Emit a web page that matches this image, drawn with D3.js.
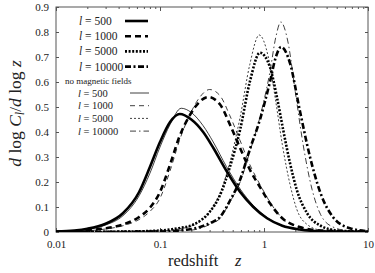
<!DOCTYPE html>
<html>
<head>
<meta charset="utf-8">
<script src="https://cdn.jsdelivr.net/npm/d3@7"></script>
<style>
  body { margin: 0; background: #fff; }
  svg { display: block; }
  text { font-family: "Liberation Serif", "DejaVu Serif", serif; fill: #222; }
</style>
</head>
<body>
<div id="chart"></div>
<script>
// ---- data: [redshift z, d log C_l / d log z]
const magL500 = [[0.01,0.002],[0.015,0.006],[0.02,0.013],[0.03,0.033],[0.044,0.075],[0.063,0.16],[0.08,0.26],[0.1,0.36],[0.125,0.44],[0.155,0.472],[0.2,0.45],[0.26,0.40],[0.325,0.337],[0.435,0.245],[0.59,0.16],[0.79,0.1],[1.07,0.055],[1.5,0.025],[2.2,0.01],[3.5,0.003],[6,0.001],[10,0.0003]];
const magL1000 = [[0.01,0.001],[0.02,0.007],[0.03,0.015],[0.044,0.03],[0.063,0.06],[0.08,0.097],[0.1,0.16],[0.125,0.27],[0.155,0.385],[0.194,0.468],[0.242,0.522],[0.29,0.54],[0.378,0.51],[0.47,0.43],[0.59,0.335],[0.73,0.25],[0.915,0.18],[1.14,0.115],[1.5,0.055],[2.2,0.02],[3.5,0.006],[10,0.001]];
const magL5000 = [[0.01,0],[0.05,0.002],[0.1,0.006],[0.15,0.015],[0.21,0.03],[0.3,0.08],[0.378,0.148],[0.47,0.26],[0.59,0.41],[0.73,0.6],[0.915,0.717],[1.14,0.66],[1.33,0.54],[1.53,0.408],[1.78,0.275],[2.07,0.168],[2.6,0.075],[3.5,0.025],[5.3,0.005],[10,0.001]];
const magL10000 = [[0.01,0],[0.1,0.002],[0.2,0.012],[0.3,0.035],[0.378,0.06],[0.47,0.125],[0.59,0.21],[0.73,0.33],[0.915,0.45],[1.14,0.6],[1.3,0.7],[1.46,0.74],[1.78,0.675],[2.2,0.49],[2.77,0.3],[3.5,0.155],[4.6,0.06],[6.7,0.015],[10,0.003]];

const noMagL500 = [[0.01,0.001],[0.02,0.01],[0.03,0.028],[0.044,0.065],[0.063,0.145],[0.08,0.235],[0.1,0.34],[0.125,0.43],[0.16,0.495],[0.2,0.478],[0.26,0.425],[0.325,0.36],[0.435,0.262],[0.59,0.172],[0.79,0.106],[1.07,0.058],[1.5,0.026],[2.2,0.01],[3.5,0.003],[10,0.0003]];
const noMagL1000 = [[0.01,0.001],[0.02,0.005],[0.03,0.012],[0.044,0.025],[0.063,0.05],[0.08,0.082],[0.1,0.135],[0.125,0.245],[0.155,0.37],[0.194,0.47],[0.242,0.54],[0.3,0.57],[0.378,0.545],[0.47,0.465],[0.59,0.365],[0.73,0.27],[0.915,0.19],[1.14,0.12],[1.5,0.055],[2.2,0.018],[3.5,0.005],[10,0.001]];
const noMagL5000 = [[0.01,0],[0.1,0.004],[0.15,0.012],[0.21,0.028],[0.3,0.08],[0.378,0.155],[0.47,0.28],[0.59,0.46],[0.73,0.67],[0.9,0.788],[1.1,0.7],[1.3,0.52],[1.5,0.35],[1.78,0.19],[2.07,0.09],[2.6,0.03],[3.5,0.008],[10,0.0005]];
const noMagL10000 = [[0.01,0],[0.2,0.008],[0.3,0.03],[0.378,0.055],[0.47,0.12],[0.59,0.2],[0.73,0.32],[0.915,0.46],[1.14,0.64],[1.3,0.78],[1.45,0.84],[1.7,0.76],[2.0,0.56],[2.4,0.34],[2.9,0.17],[3.5,0.07],[4.6,0.02],[6.7,0.004],[10,0.001]];

const multipoles = ["500", "1000", "5000", "10000"];
const yTicks = [0, 0.1, 0.2, 0.3, 0.4, 0.5, 0.6, 0.7, 0.8, 0.9];
const xTicks = [0.01, 0.1, 1, 10];
const xTickLabels = ["0.01", "0.1", "1", "10"];

// dash patterns per multipole (thick / thin)
const thickDash = ["none", "6,4", "2,1.6", "6,2.5,2,2.5"];
const thinDash = ["none", "5,4", "2,2", "6,3,1.5,3"];

let W = 375, H = 273;
let margin = { top: 7, right: 7, bottom: 41, left: 56 };
let width = W - margin.left - margin.right;
let height = H - margin.top - margin.bottom;

let svg = d3.select('#chart').append('svg')
  .attr('width', W).attr('height', H);

let x = d3.scaleLog().domain([0.01, 10]).range([margin.left, margin.left + width]);
let y = d3.scaleLinear().domain([0, 0.9]).range([margin.top + height, margin.top]);

let line = d3.line()
  .x(d => x(d[0]))
  .y(d => y(d[1]))
  .curve(d3.curveMonotoneX);

// clip to plot area
svg.append('clipPath').attr('id', 'clip')
  .append('rect')
  .attr('x', margin.left).attr('y', margin.top)
  .attr('width', width).attr('height', height);

/////// axes (ticks pointing inward, on all four sides)
let minor = [];
[0.01, 0.1, 1].forEach(d => { for (let k = 2; k <= 9; k++) minor.push(d * k); });

svg.append('g')
  .attr('transform', `translate(0,${margin.top + height})`)
  .call(d3.axisBottom(x).tickValues(xTicks).tickFormat((d, i) => xTickLabels[i]).tickSizeInner(-4).tickSizeOuter(0).tickPadding(8))
  .call(g => g.select('.domain').remove());

svg.append('g')
  .attr('transform', `translate(0,${margin.top + height})`)
  .call(d3.axisBottom(x).tickValues(minor).tickFormat('').tickSizeInner(-2).tickSizeOuter(0))
  .call(g => g.select('.domain').remove());

svg.append('g')
  .attr('transform', `translate(0,${margin.top})`)
  .call(d3.axisTop(x).tickValues(xTicks).tickFormat('').tickSizeInner(-4).tickSizeOuter(0))
  .call(g => g.select('.domain').remove());

svg.append('g')
  .attr('transform', `translate(0,${margin.top})`)
  .call(d3.axisTop(x).tickValues(minor).tickFormat('').tickSizeInner(-2).tickSizeOuter(0))
  .call(g => g.select('.domain').remove());

svg.append('g')
  .attr('transform', `translate(${margin.left},0)`)
  .call(d3.axisLeft(y).tickValues(yTicks).tickFormat(d => d === 0 ? "0" : d3.format('.1f')(d)).tickSizeInner(-3).tickSizeOuter(0).tickPadding(7))
  .call(g => g.select('.domain').remove());

svg.append('g')
  .attr('transform', `translate(${margin.left + width},0)`)
  .call(d3.axisRight(y).tickValues(yTicks).tickFormat('').tickSizeInner(-3).tickSizeOuter(0))
  .call(g => g.select('.domain').remove());

svg.selectAll('.tick line').attr('stroke', '#555');
svg.selectAll('.tick text')
  .style('font-family', '"Liberation Serif", "DejaVu Serif", serif')
  .style('font-size', '11px')
  .attr('fill', '#333');

// frame
svg.append('rect')
  .attr('x', margin.left).attr('y', margin.top)
  .attr('width', width).attr('height', height)
  .attr('fill', 'none').attr('stroke', '#555').attr('stroke-width', 1);

/////// curves
let plot = svg.append('g').attr('clip-path', 'url(#clip)');

let thinSets = [noMagL500, noMagL1000, noMagL5000, noMagL10000];
let thickSets = [magL500, magL1000, magL5000, magL10000];

thinSets.forEach((s, i) => {
  plot.append('path')
    .attr('d', line(s))
    .attr('fill', 'none')
    .attr('stroke', '#000')
    .attr('stroke-width', 0.75)
    .attr('stroke-dasharray', thinDash[i]);
});

thickSets.forEach((s, i) => {
  plot.append('path')
    .attr('d', line(s))
    .attr('fill', 'none')
    .attr('stroke', '#000')
    .attr('stroke-width', 2.6)
    .attr('stroke-dasharray', thickDash[i]);
});

/////// legend
let legend = svg.append('g');

function lEntry(ty, label, fs, tx, lx1, lx2, sw, dash) {
  let t = legend.append('text')
    .attr('x', tx).attr('y', ty)
    .attr('dy', '0.35em')
    .style('font-size', fs + 'px');
  t.append('tspan').style('font-style', 'italic').text('l');
  t.append('tspan').text(' = ' + label);
  legend.append('line')
    .attr('x1', lx1).attr('x2', lx2)
    .attr('y1', ty).attr('y2', ty)
    .attr('stroke', '#000')
    .attr('stroke-width', sw)
    .attr('stroke-dasharray', dash);
}

multipoles.forEach((m, i) => {
  lEntry(21 + i * 15.2, m, 11.5, 79, 125, 148, 2.6, thickDash[i]);
});

legend.append('text')
  .attr('x', 65).attr('y', 81)
  .attr('dy', '0.35em')
  .style('font-size', '9px')
  .text('no magnetic fields');

multipoles.forEach((m, i) => {
  lEntry(93 + i * 12.7, m, 10.5, 78, 130, 149, 0.75, thinDash[i]);
});

/////// axis titles
let xt = svg.append('text')
  .attr('x', 168).attr('y', 266)
  .style('font-size', '16.5px');
xt.append('tspan').text('redshift\u2003');
xt.append('tspan').style('font-style', 'italic').text('z');

let yt = svg.append('text')
  .attr('transform', `translate(21,${margin.top + height / 2 - 6}) rotate(-90)`)
  .attr('text-anchor', 'middle')
  .style('font-size', '17.5px');
yt.append('tspan').style('font-style', 'italic').text('d');
yt.append('tspan').text(' log ');
yt.append('tspan').style('font-style', 'italic').text('C');
yt.append('tspan').style('font-style', 'italic').style('font-size', '12px').attr('dy', 3).text('l');
yt.append('tspan').attr('dy', -3).text('/');
yt.append('tspan').style('font-style', 'italic').text('d');
yt.append('tspan').text(' log ');
yt.append('tspan').style('font-style', 'italic').text('z');
</script>
</body>
</html>
